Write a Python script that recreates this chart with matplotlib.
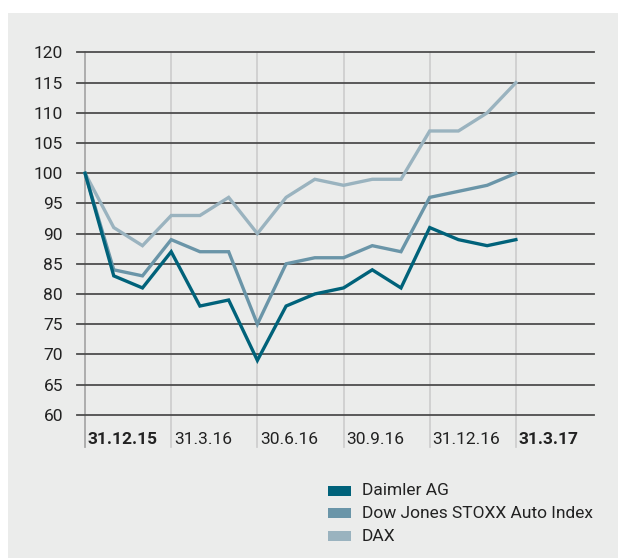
import matplotlib
matplotlib.use("Agg")
import matplotlib.pyplot as plt
from matplotlib.patches import Rectangle

plt.rcParams['font.family'] = ['Roboto', 'DejaVu Sans']

# ---- data ----
series_names = ["Daimler AG", "Dow Jones STOXX Auto Index", "DAX"]
daimler = [100, 83, 81, 87, 78, 79, 69, 78, 80, 81, 84, 81, 91, 89, 88, 89]
dowjones = [100, 84, 83, 89, 87, 87, 75, 85, 86, 86, 88, 87, 96, 97, 98, 100]
dax = [100, 91, 88, 93, 93, 96, 90, 96, 99, 98, 99, 99, 107, 107, 110, 115]
x_tick_labels = ["31.12.15", "31.3.16", "30.6.16", "30.9.16", "31.12.16", "31.3.17"]
x_tick_pos = [0, 3, 6, 9, 12, 15]
bold_labels = {"31.12.15", "31.3.17"}
y_ticks = list(range(60, 121, 5))

colors = ["#00627a", "#6a95a8", "#9ab3bf"]
bg = "#ebeceb"

W, H = 618, 558
fig = plt.figure(figsize=(W / 100, H / 100), dpi=100, facecolor="white")

# grey panel
fig.patches.append(Rectangle((8 / W, 0), (W - 8) / W, (H - 13) / H,
                             transform=fig.transFigure, facecolor=bg,
                             edgecolor="none", zorder=-10))

ax_l, ax_r, ax_t, ax_b = 77, 594, 52.5, 446.7
ymin = 54.7
ax = fig.add_axes([ax_l / W, 1 - ax_b / H, (ax_r - ax_l) / W, (ax_b - ax_t) / H])
ax.set_zorder(1)
ax.set_facecolor("none")
for s in ax.spines.values():
    s.set_visible(False)

ax.set_xlim(-0.28, 17.72)
ax.set_ylim(ymin, 120)

# horizontal grid lines
for yv in y_ticks:
    ax.axhline(yv, color="#4d4d4d", lw=1.3, zorder=1, clip_on=False)

# vertical lines
for i, xp in enumerate(x_tick_pos):
    ax.plot([xp, xp], [ymin, 120], color="#a8a8a8" if i == 0 else "#cfcfcf",
            lw=1.3, zorder=0.5, clip_on=False)
    lbl = x_tick_labels[i]
    ax.text(xp + 0.1, 55.9, lbl, ha="left", va="center", fontsize=12.5,
            fontweight="bold" if lbl in bold_labels else "normal",
            color="#222222")

xs = list(range(len(daimler)))
ax.plot(xs, dax, color=colors[2], lw=2.4, zorder=3, solid_joinstyle="miter")
ax.plot(xs, dowjones, color=colors[1], lw=2.4, zorder=4, solid_joinstyle="miter")
ax.plot(xs, daimler, color=colors[0], lw=2.4, zorder=5, solid_joinstyle="miter")

ax.set_xticks([])
ax.set_yticks(y_ticks)
ax.set_yticklabels([str(v) for v in y_ticks], fontsize=12.5, color="#222222")
ax.tick_params(axis="y", length=0, pad=10)

# legend (manual)
leg_x, leg_y0, leg_dy = 328, 490.7, 22.7
for i, name in enumerate(series_names):
    yc = leg_y0 + i * leg_dy
    fig.patches.append(Rectangle((leg_x / W, 1 - (yc + 5) / H), 23 / W, 10 / H,
                                 transform=fig.transFigure, facecolor=colors[i],
                                 edgecolor="none", zorder=2))
    fig.text((leg_x + 34) / W, 1 - yc / H, name, ha="left", va="center",
             fontsize=12.5, color="#222222")

fig.savefig("out.png", dpi=100, facecolor="white")
